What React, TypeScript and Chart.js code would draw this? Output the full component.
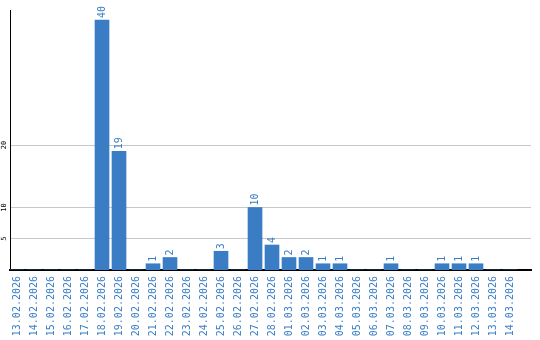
import React, { useEffect, useRef } from "react";
import { Chart, registerables } from "chart.js";

Chart.register(...registerables);

const dateLabels: string[] = [
  "13.02.2026", "14.02.2026", "15.02.2026", "16.02.2026", "17.02.2026",
  "18.02.2026", "19.02.2026", "20.02.2026", "21.02.2026", "22.02.2026",
  "23.02.2026", "24.02.2026", "25.02.2026", "26.02.2026", "27.02.2026",
  "28.02.2026", "01.03.2026", "02.03.2026", "03.03.2026", "04.03.2026",
  "05.03.2026", "06.03.2026", "07.03.2026", "08.03.2026", "09.03.2026",
  "10.03.2026", "11.03.2026", "12.03.2026", "13.03.2026", "14.03.2026",
];

const counts: number[] = [
  0, 0, 0, 0, 0,
  40, 19, 0, 1, 2,
  0, 0, 3, 0, 10,
  4, 2, 2, 1, 1,
  0, 0, 1, 0, 0,
  1, 1, 1, 0, 0,
];

const yTickValues: number[] = [5, 10, 20];

const BLUE = "#3a7dc4";
const MONO = "'DejaVu Sans Mono', monospace";

export default function App() {
  const ref = useRef<HTMLCanvasElement | null>(null);

  useEffect(() => {
    if (!ref.current) return;

    const labelPlugin = {
      id: "customLabels",
      afterDraw(chart: any) {
        const ctx = chart.ctx;
        const yScale = chart.scales.y;
        ctx.save();
        ctx.font = `7px ${MONO}`;
        ctx.fillStyle = "#000";
        ctx.textAlign = "center";
        ctx.textBaseline = "middle";
        yTickValues.forEach((v) => {
          const y = yScale.getPixelForValue(v);
          ctx.save();
          ctx.translate(4.5, y);
          ctx.rotate(-Math.PI / 2);
          ctx.fillText(String(v), 0, 0);
          ctx.restore();
        });
        ctx.font = `10px ${MONO}`;
        ctx.fillStyle = BLUE;
        ctx.textAlign = "left";
        const meta = chart.getDatasetMeta(0);
        meta.data.forEach((bar: any, i: number) => {
          const v = counts[i];
          if (!v) return;
          ctx.save();
          ctx.translate(bar.x, bar.y - 2);
          ctx.rotate(-Math.PI / 2);
          ctx.fillText(String(v), 0, 0);
          ctx.restore();
        });
        ctx.restore();
      },
    };

    const chart = new Chart(ref.current, {
      type: "bar",
      data: {
        datasets: [
          {
            data: counts.map((c, i) => ({ x: i, y: c })),
            backgroundColor: BLUE,
            borderWidth: 0,
            barThickness: 14,
          },
        ],
      },
      options: {
        responsive: false,
        animation: false,
        events: [],
        layout: { padding: { left: 10, top: 10, right: 9, bottom: 0 } },
        plugins: { legend: { display: false }, tooltip: { enabled: false } },
        scales: {
          x: {
            type: "linear",
            min: -0.412,
            max: 30.235,
            offset: false,
            grid: { display: false, drawTicks: false },
            border: { display: true, color: "#000", width: 2 },
            afterBuildTicks: (scale: any) => {
              scale.ticks = dateLabels.map((_, i) => ({ value: i }));
            },
            afterFit: (scale: any) => {
              scale.height = 70;
            },
            ticks: {
              autoSkip: false,
              minRotation: 90,
              maxRotation: 90,
              padding: 6,
              color: BLUE,
              font: { family: MONO, size: 10 },
              callback: (value: any) => dateLabels[Number(value)] ?? "",
            },
          },
          y: {
            min: 0,
            max: 41.6,
            grid: { color: "#c8c8c8", lineWidth: 1, drawTicks: false },
            border: { display: true, color: "#000", width: 1 },
            afterBuildTicks: (scale: any) => {
              scale.ticks = yTickValues.map((v) => ({ value: v }));
            },
            afterFit: (scale: any) => {
              scale.width = 0;
            },
            ticks: { display: false },
          },
        },
      },
      plugins: [labelPlugin],
    } as any);

    return () => chart.destroy();
  }, []);

  return (
    <div style={{ position: "fixed", left: 0, top: 0, width: 540, height: 340, background: "#fff" }}>
      <canvas ref={ref} width={540} height={340} style={{ display: "block" }} />
    </div>
  );
}
